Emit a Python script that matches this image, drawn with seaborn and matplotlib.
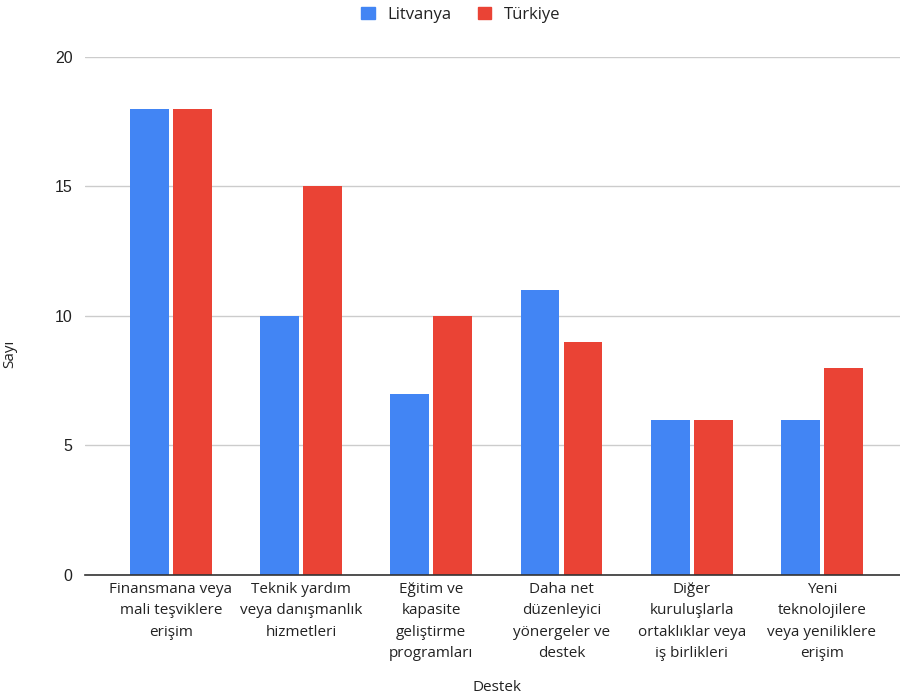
import matplotlib
matplotlib.use('Agg')
import matplotlib.pyplot as plt
import numpy as np
import pandas as pd
import seaborn as sns
from matplotlib.patches import Patch

sns.set_theme(style='white')
plt.rcParams['font.family'] = ['Open Sans', 'DejaVu Sans']

kategoriler = ['Finansmana veya\nmali teşviklere\nerişim',
               'Teknik yardım\nveya danışmanlık\nhizmetleri',
               'Eğitim ve\nkapasite\ngeliştirme\nprogramları',
               'Daha net\ndüzenleyici\nyönergeler ve\ndestek',
               'Diğer\nkuruluşlarla\nortaklıklar veya\niş birlikleri',
               'Yeni\nteknolojilere\nveya yeniliklere\nerişim']
litvanya = [18, 10, 7, 11, 6, 6]
turkiye = [18, 15, 10, 9, 6, 8]
seriler = ['Litvanya', 'Türkiye']
renkler = ['#4285F4', '#EA4335']

df = pd.DataFrame({'Destek': kategoriler * 2,
                   'Sayı': litvanya + turkiye,
                   'Ülke': ['Litvanya'] * 6 + ['Türkiye'] * 6})

fig = plt.figure(figsize=(9, 6.95), dpi=100)
ax = fig.add_axes([0.0944, 0.1727, 0.9056, 0.7453])
sns.barplot(data=df, x='Destek', y='Sayı', hue='Ülke', palette=renkler,
            width=0.66, gap=0.1, saturation=1, ax=ax, legend=False,
            linewidth=0)

ax.set_ylim(0, 20)
ax.set_xlim(-0.66, 5.6)
ax.set_yticks([0, 5, 10, 15, 20])
ax.yaxis.grid(True, color='#cccccc', linewidth=1)
ax.set_axisbelow(True)
for s in ['top', 'right', 'left']:
    ax.spines[s].set_visible(False)
ax.spines['bottom'].set_color('#333333')
ax.spines['bottom'].set_linewidth(1.2)
ax.tick_params(axis='x', length=0, pad=5, labelsize=11, colors='#222222')
ax.tick_params(axis='y', length=0, pad=9, labelsize=11.5, colors='#222222')
for t in ax.get_xticklabels():
    t.set_linespacing(1.58)
for t in ax.get_yticklabels():
    t.set_family(['Liberation Sans', 'DejaVu Sans'])
ax.set_xlabel('Destek', fontsize=11, color='#222222')
ax.xaxis.set_label_coords(0.505, -0.203)
ax.set_ylabel('Sayı', fontsize=11, color='#222222')
ax.yaxis.set_label_coords(-0.083, 0.427)

handles = [Patch(facecolor=c, edgecolor=c) for c in renkler]
fig.legend(handles, seriler, loc='upper center', bbox_to_anchor=(0.512, 1.012),
           ncol=2, frameon=False, fontsize=12, handlelength=0.8,
           handleheight=0.8, columnspacing=1.6, handletextpad=0.75,
           labelcolor='#222222')

plt.savefig('out.png', dpi=100)
